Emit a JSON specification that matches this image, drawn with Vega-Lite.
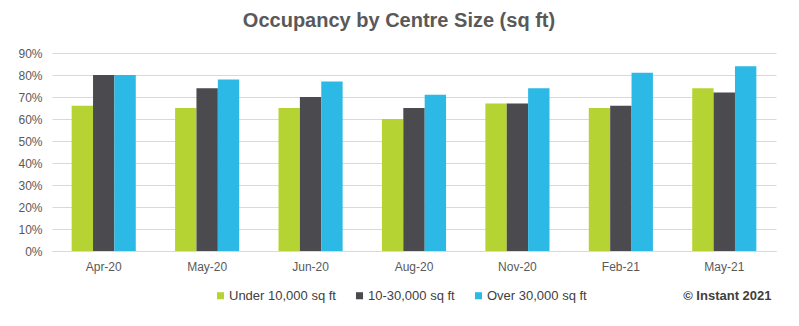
{
  "$schema": "https://vega.github.io/schema/vega-lite/v6.json",
  "autosize": {"type": "none"},
  "width": 724,
  "height": 198,
  "padding": {"left": 52, "top": 53, "right": 23, "bottom": 75},
  "background": "white",
  "config": {
    "font": "Liberation Sans",
    "view": {"stroke": null}
  },
  "title": {
    "text": "Occupancy by Centre Size (sq ft)",
    "fontSize": 20,
    "fontWeight": "bold",
    "color": "#595959",
    "anchor": "middle",
    "dx": -15,
    "offset": 16
  },
  "data": {
    "values": [
      {"month": "Apr-20", "size": "Under 10,000 sq ft", "occ": 66},
      {"month": "Apr-20", "size": "10-30,000 sq ft", "occ": 80},
      {"month": "Apr-20", "size": "Over 30,000 sq ft", "occ": 80},
      {"month": "May-20", "size": "Under 10,000 sq ft", "occ": 65},
      {"month": "May-20", "size": "10-30,000 sq ft", "occ": 74},
      {"month": "May-20", "size": "Over 30,000 sq ft", "occ": 78},
      {"month": "Jun-20", "size": "Under 10,000 sq ft", "occ": 65},
      {"month": "Jun-20", "size": "10-30,000 sq ft", "occ": 70},
      {"month": "Jun-20", "size": "Over 30,000 sq ft", "occ": 77},
      {"month": "Aug-20", "size": "Under 10,000 sq ft", "occ": 60},
      {"month": "Aug-20", "size": "10-30,000 sq ft", "occ": 65},
      {"month": "Aug-20", "size": "Over 30,000 sq ft", "occ": 71},
      {"month": "Nov-20", "size": "Under 10,000 sq ft", "occ": 67},
      {"month": "Nov-20", "size": "10-30,000 sq ft", "occ": 67},
      {"month": "Nov-20", "size": "Over 30,000 sq ft", "occ": 74},
      {"month": "Feb-21", "size": "Under 10,000 sq ft", "occ": 65},
      {"month": "Feb-21", "size": "10-30,000 sq ft", "occ": 66},
      {"month": "Feb-21", "size": "Over 30,000 sq ft", "occ": 81},
      {"month": "May-21", "size": "Under 10,000 sq ft", "occ": 74},
      {"month": "May-21", "size": "10-30,000 sq ft", "occ": 72},
      {"month": "May-21", "size": "Over 30,000 sq ft", "occ": 84}
    ]
  },
  "mark": {"type": "bar"},
  "encoding": {
    "x": {
      "field": "month",
      "type": "nominal",
      "sort": ["Apr-20", "May-20", "Jun-20", "Aug-20", "Nov-20", "Feb-21", "May-21"],
      "scale": {"paddingInner": 0.38, "paddingOuter": 0.19},
      "axis": {
        "title": "© Instant 2021",
        "titleAnchor": "end",
        "titleAlign": "right",
        "titleX": 719,
        "titleFontSize": 13,
        "titleFontWeight": "bold",
        "titleColor": "#404040",
        "titlePadding": 17,
        "labelAngle": 0,
        "labelFontSize": 12,
        "labelColor": "#595959",
        "labelPadding": 10,
        "ticks": false,
        "domainColor": "#d9d9d9",
        "domainWidth": 1
      }
    },
    "xOffset": {
      "field": "size",
      "type": "nominal",
      "sort": ["Under 10,000 sq ft", "10-30,000 sq ft", "Over 30,000 sq ft"],
      "scale": {"paddingInner": 0, "paddingOuter": 0}
    },
    "y": {
      "field": "occ",
      "type": "quantitative",
      "scale": {"domain": [0, 90], "nice": false},
      "axis": {
        "title": null,
        "values": [0, 10, 20, 30, 40, 50, 60, 70, 80, 90],
        "labelExpr": "datum.value + '%'",
        "labelFontSize": 12,
        "labelColor": "#595959",
        "labelPadding": 10,
        "ticks": false,
        "domain": false,
        "gridColor": "#d9d9d9",
        "gridWidth": 1
      }
    },
    "color": {
      "field": "size",
      "type": "nominal",
      "sort": ["Under 10,000 sq ft", "10-30,000 sq ft", "Over 30,000 sq ft"],
      "scale": {
        "domain": ["Under 10,000 sq ft", "10-30,000 sq ft", "Over 30,000 sq ft"],
        "range": ["#b6d334", "#4a4a4f", "#2cb9e6"]
      },
      "legend": {
        "title": null,
        "orient": "none",
        "direction": "horizontal",
        "legendX": 162,
        "legendY": 236,
        "symbolType": "square",
        "symbolSize": 50,
        "symbolStrokeWidth": 0,
        "labelFontSize": 13,
        "labelColor": "#404040",
        "labelOffset": 2,
        "columnPadding": 17
      }
    }
  }
}
